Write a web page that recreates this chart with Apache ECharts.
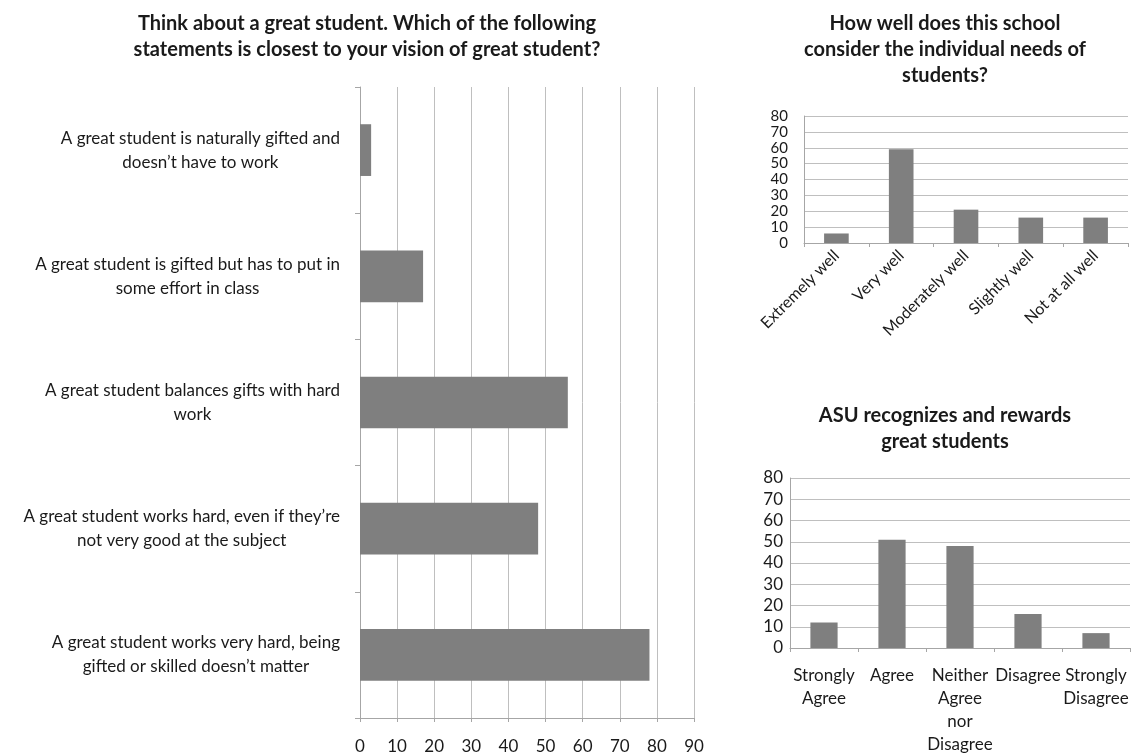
<!DOCTYPE html>
<html>
<head>
<meta charset="utf-8">
<script src="https://cdn.jsdelivr.net/npm/echarts@6/dist/echarts.min.js"></script>
<style>
  html, body { margin: 0; padding: 0; background: #fff; }
  #main { width: 1133px; height: 756px; }
</style>
</head>
<body>
<div id="main"></div>
<script>
  // left chart: vision of a great student
  let visionCats = [
    "A great student is naturally gifted and\ndoesn\u2019t have to work",
    "A great student is gifted but has to put in\nsome effort in class",
    "A great student balances gifts with hard\nwork",
    "A great student works hard, even if they\u2019re\nnot very good at the subject",
    "A great student works very hard, being\ngifted or skilled doesn\u2019t matter"
  ];
  let visionVals = [3, 17, 56, 48, 78];

  // top right: individual needs
  let needsCats = ["Extremely well", "Very well", "Moderately well", "Slightly well", "Not at all well"];
  let needsVals = [6, 59, 21, 16, 16];

  // bottom right: ASU recognizes
  let asuCats = ["Strongly\nAgree", "Agree", "Neither\nAgree\nnor\nDisagree", "Disagree", "Strongly\nDisagree"];
  let asuVals = [12, 51, 48, 16, 7];

  let font = 'Lato';
  let txt = '#1a1a1a';
  let barColor = '#7f7f7f';
  let gridColor = '#bfbfbf';
  let axisColor = '#a6a6a6';

  let chart = echarts.init(document.getElementById('main'));

  let titleStyle = { fontFamily: font, fontSize: 20, fontWeight: 'bold', color: txt, lineHeight: 26 };

  let option = {
    animation: false,
    textStyle: { fontFamily: font },
    title: [
      {
        text: 'Think about a great student. Which of the following\nstatements is closest to your vision of great student?',
        left: 362, top: 6, textAlign: 'center', textStyle: titleStyle
      },
      {
        text: 'How well does this school\nconsider the individual needs of\nstudents?',
        left: 940, top: 6, textAlign: 'center', textStyle: titleStyle
      },
      {
        text: 'ASU recognizes and rewards\ngreat students',
        left: 940, top: 398, textAlign: 'center', textStyle: titleStyle
      }
    ],
    grid: [
      { left: 360, top: 87, width: 334, height: 631 },
      { left: 804, top: 116, width: 324, height: 127 },
      { left: 790, top: 478, width: 340, height: 170 }
    ],
    xAxis: [
      {
        gridIndex: 0, type: 'value', min: 0, max: 90, interval: 10,
        axisLine: { show: true, lineStyle: { color: axisColor } },
        axisTick: { show: true, length: 4, lineStyle: { color: axisColor } },
        splitLine: { show: true, lineStyle: { color: gridColor } },
        axisLabel: { color: txt, fontSize: 17, margin: 20, fontFamily: font, showMinLabel: true, showMaxLabel: true }
      },
      {
        gridIndex: 1, type: 'category', data: needsCats,
        axisLine: { lineStyle: { color: axisColor } },
        axisTick: { show: true, length: 4, lineStyle: { color: axisColor } },
        axisLabel: { color: txt, fontSize: 16, rotate: 45, interval: 0, margin: 10, fontFamily: font }
      },
      {
        gridIndex: 2, type: 'category', data: asuCats,
        axisLine: { lineStyle: { color: axisColor } },
        axisTick: { show: true, length: 4, lineStyle: { color: axisColor } },
        axisLabel: { color: txt, fontSize: 17, interval: 0, margin: 16, lineHeight: 23, fontFamily: font }
      }
    ],
    yAxis: [
      {
        gridIndex: 0, type: 'category', data: visionCats, inverse: true,
        axisLine: { show: true, lineStyle: { color: axisColor } },
        axisTick: { show: true, length: 5, lineStyle: { color: axisColor } },
        axisLabel: {
          margin: 20, interval: 0,
          formatter: function (v) {
            return v.split('\n').map(function (s) { return '{c|' + s + '}'; }).join('\n');
          },
          rich: { c: { align: 'center', fontSize: 17, lineHeight: 24, color: txt, fontFamily: font } }
        }
      },
      {
        gridIndex: 1, type: 'value', min: 0, max: 80, interval: 10,
        axisLine: { show: true, lineStyle: { color: axisColor } },
        axisTick: { show: false },
        splitLine: { show: true, lineStyle: { color: gridColor } },
        axisLabel: {
          color: txt, fontSize: 15, lineHeight: 14, margin: 16, fontFamily: font,
          showMinLabel: true, showMaxLabel: true, hideOverlap: false
        }
      },
      {
        gridIndex: 2, type: 'value', min: 0, max: 80, interval: 10,
        axisLine: { show: true, lineStyle: { color: axisColor } },
        axisTick: { show: false },
        splitLine: { show: true, lineStyle: { color: gridColor } },
        axisLabel: {
          color: txt, fontSize: 17, margin: 7, fontFamily: font,
          showMinLabel: true, showMaxLabel: true
        }
      }
    ],
    series: [
      {
        type: 'bar', xAxisIndex: 0, yAxisIndex: 0, data: visionVals,
        barWidth: '41%', itemStyle: { color: barColor }
      },
      {
        type: 'bar', xAxisIndex: 1, yAxisIndex: 1, data: needsVals,
        barWidth: '38%', itemStyle: { color: barColor }
      },
      {
        type: 'bar', xAxisIndex: 2, yAxisIndex: 2, data: asuVals,
        barWidth: '40%', itemStyle: { color: barColor }
      }
    ]
  };
  chart.setOption(option);
</script>
</body>
</html>
